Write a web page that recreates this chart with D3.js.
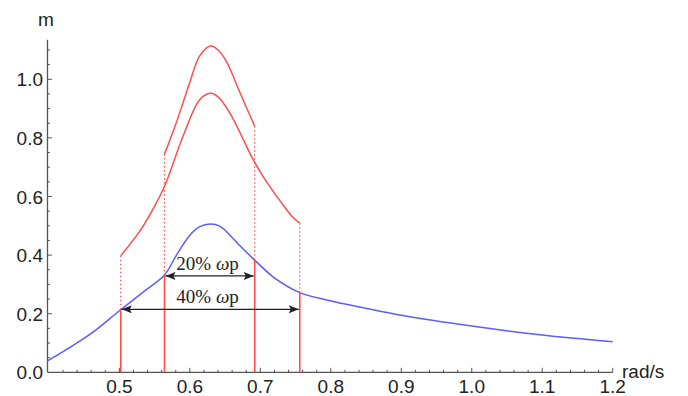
<!DOCTYPE html>
<html lang="en">
  <head>
    <meta charset="utf-8">
    <title>Spectrum band</title>
    <style>
      body, html { margin:0; padding:0; background:#fff; }
      svg { display:block; }
      .tick-label { font-family: Arial, "Liberation Sans", sans-serif; font-size:19px; fill:#222; }
      .band-label { font-family: "Liberation Serif", "DejaVu Serif", serif; font-size:19px; fill:#222; }
    </style>
    <script src="https://cdn.jsdelivr.net/npm/d3@7"></script>
  </head>
  <body>
    <div id="chart"></div>
<script>
// frequency (rad/s) , m
var bluePts = [
  [0.398,0.039],[0.435,0.093],[0.463,0.138],[0.5,0.21],[0.535,0.276],[0.564,0.332],
  [0.581,0.40],[0.6,0.468],[0.614,0.497],[0.629,0.506],[0.643,0.498],[0.657,0.468],
  [0.671,0.432],[0.692,0.383],[0.718,0.326],[0.756,0.272],[0.794,0.247],[0.851,0.218],
  [0.9,0.195],[1.0,0.158],[1.1,0.127],[1.2,0.104]
];
var redLowPts = [
  [0.502,0.398],[0.529,0.482],[0.545,0.545],[0.564,0.635],[0.591,0.81],[0.614,0.93],
  [0.629,0.952],[0.64,0.94],[0.657,0.884],[0.69,0.725],[0.704,0.668],[0.728,0.585],
  [0.745,0.532],[0.756,0.509]
];
var redHighPts = [
  [0.564,0.745],[0.579,0.84],[0.591,0.925],[0.6,0.99],[0.614,1.08],[0.629,1.114],
  [0.64,1.1],[0.652,1.06],[0.671,0.955],[0.692,0.84]
];
// band edges: x, top of dotted part, blue value
var edgeX    = [0.502, 0.564, 0.692, 0.756];
var edgeTop  = [0.398, 0.745, 0.840, 0.509];
var edgeBlue = [0.210, 0.332, 0.383, 0.272];

var bandNames = ['20%', '40%'];
var bandFrom  = [0.564, 0.502];
var bandTo    = [0.692, 0.756];
var bandY     = [0.329, 0.215];

var xMajor = [0.5, 0.6, 0.7, 0.8, 0.9, 1.0, 1.1, 1.2];
var yMajor = [0.0, 0.2, 0.4, 0.6, 0.8, 1.0];

var W = 688, H = 396;
var x = d3.scaleLinear().domain([0.398, 1.2]).range([47.5, 612.7]);
var y = d3.scaleLinear().domain([0, 1]).range([372.3, 79.3]);

var svg = d3.select('#chart').append('svg').attr('width', W).attr('height', H);

var blue = '#5c5cff', red = '#ff4d4d', axisCol = '#555';

// ---- axes ----
var ax = svg.append('g');
ax.append('line').attr('x1', x(0.398)).attr('x2', x(1.2)).attr('y1', y(0)).attr('y2', y(0))
  .attr('stroke', axisCol).attr('stroke-width', 1.3);
ax.append('line').attr('x1', x(0.398)).attr('x2', x(0.398)).attr('y1', y(0)).attr('y2', y(1.135))
  .attr('stroke', axisCol).attr('stroke-width', 1.3);

// x ticks (minor every 0.02)
var xTicks = d3.range(0.42, 1.2001, 0.02);
ax.selectAll('.xt').data(xTicks).enter().append('line')
  .attr('x1', function(d){ return x(d); }).attr('x2', function(d){ return x(d); })
  .attr('y1', y(0))
  .attr('y2', function(d){ return y(0) - (Math.abs(d*10 - Math.round(d*10)) < 1e-6 ? 4.5 : 2.5); })
  .attr('stroke', axisCol).attr('stroke-width', 1);
ax.selectAll('.xl').data(xMajor).enter().append('text')
  .attr('class', 'tick-label')
  .attr('x', function(d){ return x(d); }).attr('y', 393)
  .attr('text-anchor', 'middle')
  .text(function(d){ return d3.format('.1f')(d); });

// y ticks (minor every 0.05)
var yTicks = d3.range(0.05, 1.1001, 0.05);
ax.selectAll('.yt').data(yTicks).enter().append('line')
  .attr('y1', function(d){ return y(d); }).attr('y2', function(d){ return y(d); })
  .attr('x1', x(0.398))
  .attr('x2', function(d){ return x(0.398) + (Math.abs(d*5 - Math.round(d*5)) < 1e-6 ? 4.5 : 2.5); })
  .attr('stroke', axisCol).attr('stroke-width', 1);
ax.selectAll('.yl').data(yMajor).enter().append('text')
  .attr('class', 'tick-label')
  .attr('x', 43).attr('y', function(d){ return y(d) + 7; })
  .attr('text-anchor', 'end')
  .text(function(d){ return d3.format('.1f')(d); });

ax.append('text').attr('class', 'tick-label').attr('x', 46).attr('y', 26)
  .attr('text-anchor', 'middle').text('m');
ax.append('text').attr('class', 'tick-label').attr('x', 622).attr('y', 378).text('rad/s');

// ---- curves ----
var line = d3.line().x(function(d){ return x(d[0]); }).y(function(d){ return y(d[1]); })
  .curve(d3.curveCatmullRom.alpha(0.5));

[[redHighPts, red], [redLowPts, red], [bluePts, blue]].forEach(function(c) {
  svg.append('path').attr('d', line(c[0])).attr('fill', 'none')
    .attr('stroke', c[1]).attr('stroke-width', 1.5);
});

// band edges: dotted above blue, solid below
edgeX.forEach(function(ex, i) {
  svg.append('line').attr('x1', x(ex)).attr('x2', x(ex))
    .attr('y1', y(edgeTop[i])).attr('y2', y(edgeBlue[i]))
    .attr('stroke', red).attr('stroke-width', 1.2).attr('stroke-dasharray', '1.5,2.5');
  svg.append('line').attr('x1', x(ex)).attr('x2', x(ex))
    .attr('y1', y(edgeBlue[i])).attr('y2', y(0))
    .attr('stroke', red).attr('stroke-width', 1.6);
});

// ---- arrows ----
var defs = svg.append('defs');
['s', 'e'].forEach(function(k) {
  defs.append('marker').attr('id', 'arr' + k)
    .attr('viewBox', '0 0 10 8').attr('refX', 10).attr('refY', 4)
    .attr('markerWidth', 11).attr('markerHeight', 8).attr('markerUnits', 'userSpaceOnUse')
    .attr('orient', k === 's' ? 'auto-start-reverse' : 'auto')
    .append('path').attr('d', 'M0,0 L10,4 L0,8 L2,4 Z').attr('fill', '#222');
});

bandNames.forEach(function(name, i) {
  svg.append('line')
    .attr('x1', x(bandFrom[i]) + 1).attr('x2', x(bandTo[i]) - 1)
    .attr('y1', y(bandY[i])).attr('y2', y(bandY[i]))
    .attr('stroke', '#222').attr('stroke-width', 1.3)
    .attr('marker-start', 'url(#arrs)').attr('marker-end', 'url(#arre)');
  var t = svg.append('text').attr('class', 'band-label')
    .attr('x', (x(bandFrom[0]) + x(bandTo[0])) / 2 - 2).attr('y', y(bandY[i]) - 6)
    .attr('text-anchor', 'middle');
  t.append('tspan').text(name + ' ');
  t.append('tspan').attr('font-style', 'italic').text('\u03c9');
  t.append('tspan').text('p');
});
</script>
  </body>
</html>
